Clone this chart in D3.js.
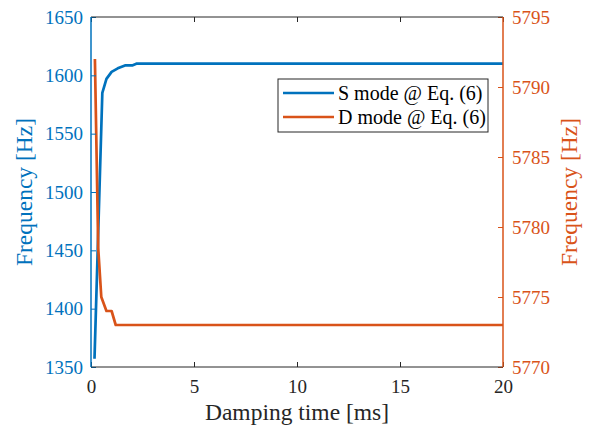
<!DOCTYPE html>
<html>
<head>
<meta charset="utf-8">
<script src="https://cdn.jsdelivr.net/npm/d3@7"></script>
</head>
<body style="margin:0;background:#fff">
<svg id="c" width="589" height="428" style="display:block"></svg>
<script>
// Damping time [ms] and eigenfrequencies of the two modes
const sTime   = [0.17, 0.55, 0.75, 1.0, 1.3, 1.65, 2.0, 2.2, 20];
const sFreq   = [1357, 1585, 1597, 1603, 1606, 1608.5, 1608.5, 1610, 1610];
const dTime   = [0.19, 0.35, 0.5, 0.75, 1.0, 1.2, 20];
const dFreq   = [5792, 5778.5, 5775, 5774, 5774, 5773, 5773];

const xTicks      = [0, 5, 10, 15, 20];
const leftTicks   = [1350, 1400, 1450, 1500, 1550, 1600, 1650];
const rightTicks  = [5770, 5775, 5780, 5785, 5790, 5795];
const seriesNames = ["S mode @ Eq. (6)", "D mode @ Eq. (6)"];

const BLUE = "#0072BD", ORANGE = "#D95319", INK = "#262626";
const FONT = "Liberation Serif";

const m = { left: 91, right: 503, top: 17, bottom: 367 };
const svg = d3.select("#c");

const x  = d3.scaleLinear().domain([0, 20]).range([m.left, m.right]);
const yL = d3.scaleLinear().domain([1350, 1650]).range([m.bottom, m.top]);
const yR = d3.scaleLinear().domain([5770, 5795]).range([m.bottom, m.top]);

// data lines
const lineS = d3.line().x((d, i) => x(sTime[i])).y(d => yL(d));
const lineD = d3.line().x((d, i) => x(dTime[i])).y(d => yR(d));

svg.append("path").attr("d", lineS(sFreq))
  .attr("fill", "none").attr("stroke", BLUE).attr("stroke-width", 2.7)
  .attr("stroke-linejoin", "round");
svg.append("path").attr("d", lineD(dFreq))
  .attr("fill", "none").attr("stroke", ORANGE).attr("stroke-width", 2.7)
  .attr("stroke-linejoin", "round");

// axes (ticks point inward)
const fmt = d3.format("d");
function styleAxis(g, color) {
  g.attr("font-family", FONT).attr("font-size", 19);
  g.select(".domain").remove();
  g.selectAll(".tick line").attr("stroke", color).attr("stroke-width", 1);
  g.selectAll(".tick text").attr("fill", color).attr("font-family", FONT).attr("font-size", 19);
}

styleAxis(svg.append("g").attr("transform", `translate(0,${m.bottom})`)
  .call(d3.axisBottom(x).tickValues(xTicks).tickFormat(fmt).tickSize(-5).tickPadding(13)), INK);
styleAxis(svg.append("g").attr("transform", `translate(0,${m.top})`)
  .call(d3.axisTop(x).tickValues(xTicks).tickSize(-5).tickFormat("")), INK);
styleAxis(svg.append("g").attr("transform", `translate(${m.left},0)`)
  .call(d3.axisLeft(yL).tickValues(leftTicks).tickFormat(fmt).tickSize(-5).tickPadding(8)), BLUE);
styleAxis(svg.append("g").attr("transform", `translate(${m.right},0)`)
  .call(d3.axisRight(yR).tickValues(rightTicks).tickFormat(fmt).tickSize(-5).tickPadding(9)), ORANGE);

// frame lines
function frame(x1, y1, x2, y2, c, w) {
  svg.append("line").attr("x1", x1).attr("y1", y1).attr("x2", x2).attr("y2", y2)
    .attr("stroke", c).attr("stroke-width", w);
}
frame(m.left, m.top, m.right, m.top, INK, 1);
frame(m.left, m.bottom, m.right, m.bottom, INK, 1);
frame(m.left, m.top, m.left, m.bottom, BLUE, 1.5);
frame(m.right, m.top, m.right, m.bottom, ORANGE, 1.5);

// axis titles
function title(tf, color, str) {
  svg.append("text").attr("transform", tf).attr("text-anchor", "middle")
    .attr("fill", color).attr("font-family", FONT).attr("font-size", 23.5).text(str);
}
title(`translate(${(m.left + m.right) / 2},420)`, INK, "Damping time [ms]");
title(`translate(32,${(m.top + m.bottom) / 2}) rotate(-90)`, BLUE, "Frequency [Hz]");
title(`translate(577,${(m.top + m.bottom) / 2}) rotate(-90)`, ORANGE, "Frequency [Hz]");

// legend
const lg = svg.append("g");
lg.append("rect").attr("x", 278).attr("y", 79).attr("width", 210).attr("height", 53)
  .attr("fill", "#fff").attr("stroke", INK).attr("stroke-width", 1);
[BLUE, ORANGE].forEach((c, i) => {
  const yy = 93 + i * 24;
  lg.append("line").attr("x1", 283).attr("x2", 334).attr("y1", yy).attr("y2", yy)
    .attr("stroke", c).attr("stroke-width", 2.7);
  lg.append("text").attr("x", 338).attr("y", yy + 6.5).attr("fill", "#000")
    .attr("font-family", FONT).attr("font-size", 20).text(seriesNames[i]);
});
</script>
</body>
</html>
